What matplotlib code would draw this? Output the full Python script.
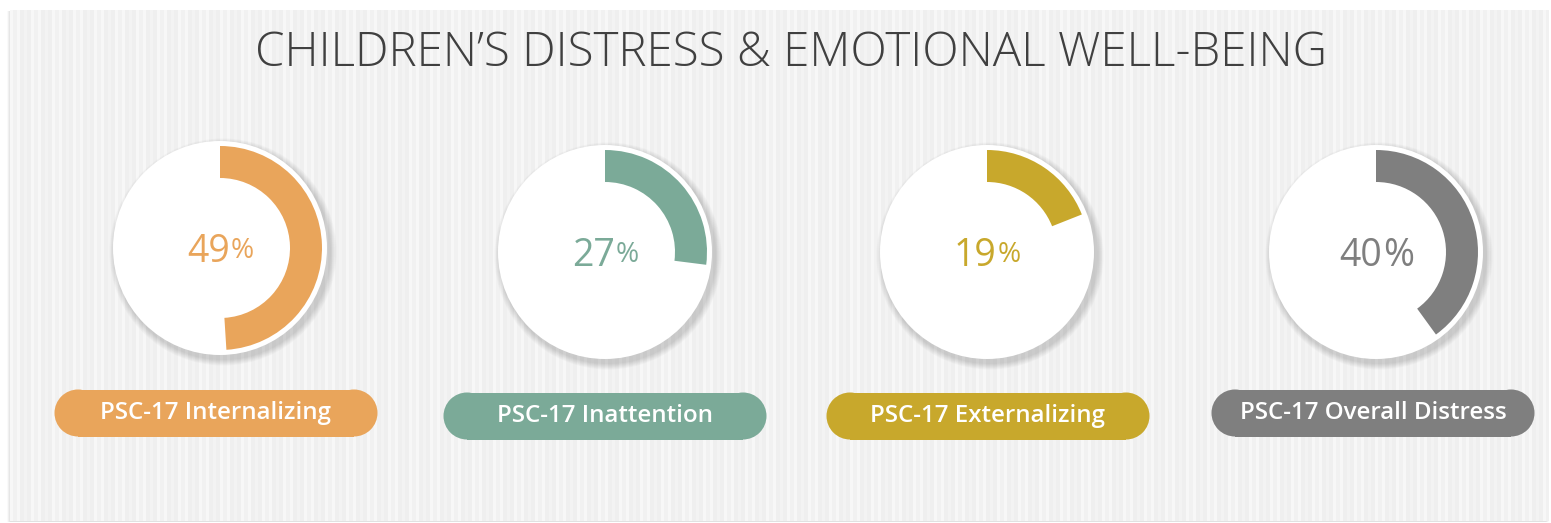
import matplotlib
matplotlib.use("Agg")
import matplotlib.pyplot as plt
from matplotlib.patches import Wedge, Circle, Rectangle
import numpy as np

# ---- data ----
title = "CHILDREN\u2019S DISTRESS & EMOTIONAL WELL-BEING"
categories = ["PSC-17 Internalizing", "PSC-17 Inattention", "PSC-17 Externalizing", "PSC-17 Overall Distress"]
values = [49, 27, 19, 40]
colors = ["#E9A55B", "#7BAA98", "#C8A82C", "#7F7F7F"]

W, H = 1551, 523
fig = plt.figure(figsize=(W / 100, H / 100), dpi=100)
fig.patch.set_facecolor("white")
ax = fig.add_axes([0, 0, 1, 1])
ax.set_xlim(0, W)
ax.set_ylim(0, H)
ax.axis("off")

def Y(y):
    return H - y

# background panel with subtle vertical texture
px0, py0, px1, py1 = 10, 10, 1549, 521
for i in range(6):
    ax.add_patch(Rectangle((px0 - 3 + i * 0.5, Y(py1) - 1), px1 - px0, py1 - py0,
                           facecolor="#000000", alpha=0.02, edgecolor="none", zorder=0))
cols = np.arange(px1 - px0)
tex = np.where((cols % 7) < 3, 0.955, 0.935)
tex = tex + 0.01 * ((cols % 21) < 10)
img = np.tile(tex, (py1 - py0, 1))
ax.imshow(img, cmap="gray", vmin=0, vmax=1, extent=(px0, px1, Y(py1), Y(py0)),
          aspect="auto", zorder=1, interpolation="nearest")

ax.text(791, Y(54), title, ha="center", va="center", fontsize=34.2, color="#404040",
        family="Open Sans", fontweight="light", zorder=5)

centers_x = [220, 605, 987, 1376]
centers_y = [248, 252, 252, 252]
pill_x = [216, 605, 988, 1373]
pill_y = [413, 416, 416, 413]
pct_scale = [0.75, 0.75, 0.75, 1.0]
R, r_out, r_in = 107, 102, 70
pw, ph = 323, 47

num_texts = []
for i, (cat, v, c) in enumerate(zip(categories, values, colors)):
    cx, cy = centers_x[i], Y(centers_y[i])
    # shadow
    for k in range(8):
        ax.add_patch(Circle((cx + 3, cy - 4), R + 1 + k * 0.8, facecolor="#000000",
                            alpha=0.018, edgecolor="none", zorder=2))
    ax.add_patch(Circle((cx, cy), R, facecolor="white", edgecolor="none", zorder=3))
    ax.add_patch(Wedge((cx, cy), r_out, 90 - 360 * v / 100.0, 90, width=r_out - r_in,
                       facecolor=c, edgecolor="none", zorder=4))
    t1 = ax.text(cx, cy, str(v), ha="right", va="center_baseline", fontsize=27, color=c,
                 family="Open Sans", zorder=5)
    t2 = ax.text(cx, cy, "%", ha="left", va="center_baseline", fontsize=27 * pct_scale[i],
                 color=c, family="Open Sans", zorder=5)
    num_texts.append((t1, t2, cx, cy))
    # pill (rectangle with semicircular ends)
    bx, by = pill_x[i], Y(pill_y[i])
    ax.add_patch(Rectangle((bx - pw / 2 + ph / 2, by - ph / 2), pw - ph, ph,
                           facecolor=c, edgecolor="none", zorder=4))
    ax.add_patch(Circle((bx - pw / 2 + ph / 2, by), ph / 2, facecolor=c, edgecolor="none", zorder=4))
    ax.add_patch(Circle((bx + pw / 2 - ph / 2, by), ph / 2, facecolor=c, edgecolor="none", zorder=4))
    ax.text(bx, by, cat, ha="center", va="center", fontsize=17.4, color="white",
            family="Open Sans", fontweight="semibold", zorder=5)

fig.canvas.draw()
rend = fig.canvas.get_renderer()
for t1, t2, cx, cy in num_texts:
    w1 = t1.get_window_extent(rend).width
    w2 = t2.get_window_extent(rend).width
    split = cx - (w1 + w2) / 2 + w1
    t1.set_x(split)
    t2.set_x(split + 1)

fig.savefig("out.png", dpi=100, facecolor=fig.get_facecolor())
